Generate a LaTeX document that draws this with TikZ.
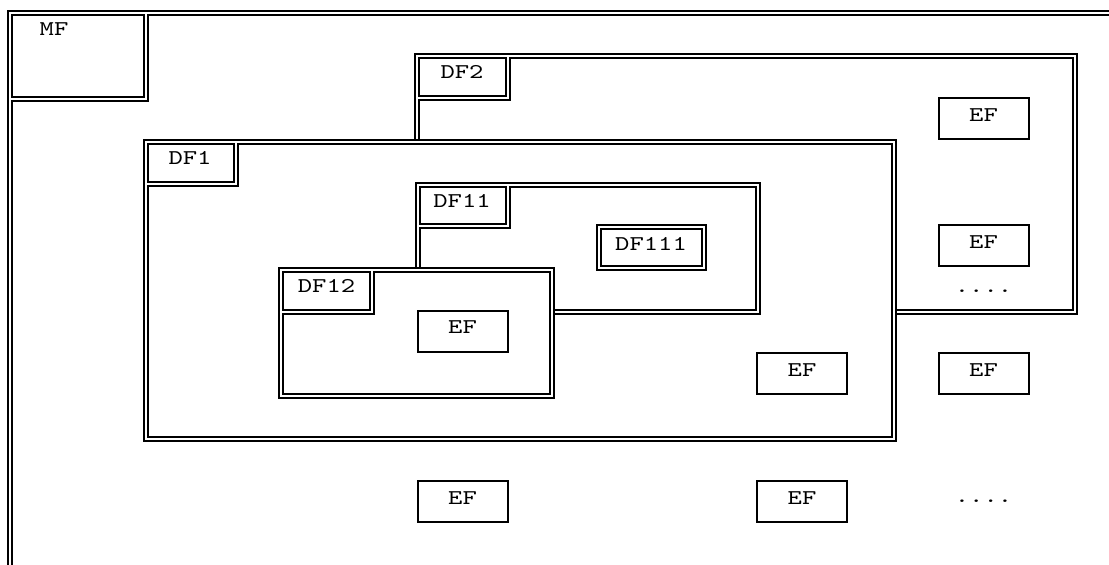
\documentclass[tikz,border=0pt]{standalone}
\usepackage{fontspec}
\setmonofont{lmmono10-regular.otf}[FakeStretch=1.3]
\begin{document}
\begin{tikzpicture}[%
            x=0.5pt, y=-0.5pt,
            myline/.style={line width=1pt},
            myfill/.style={fill=white, line width=1pt},
            mytext/.style={anchor=base, inner sep=0pt, font=\ttfamily\fontsize{10.5}{12}\selectfont},
            mybox/.style={draw, line width=1pt, inner sep=0pt, minimum width=45pt,
                text height=11.65pt, text depth=8.85pt, font=\ttfamily\fontsize{10.5}{12}\selectfont}
    ]
        \useasboundingbox (0,0) rectangle (1109,564);
        \clip (0,0) rectangle (1109,564);

        % MF
        \draw [myline] (7.5,11) rectangle (1120,580);
        \draw [myline] (11.5,15) rectangle (144,97);
        \draw [myline] (11.5,101) -- (148,101) -- (148,15) -- (1116,15)
            -- (1116,576) -- (11.5,576) -- cycle;
        \path (54,35) node [mytext] (mf) {MF};

        % DF2
        \draw [myline] (415,54) rectangle (1077,314);
        \draw [myline] (419,58) rectangle (506,96);
        \draw [myline] (419,100) -- (510,100) -- (510,58) -- (1073,58)
            -- (1073,310) -- (419,310) -- cycle;
        \path (462,78.7) node [mytext] (df2) {DF2};

        % DF1
        \filldraw [myfill] (144,140) rectangle (896,441);
        \draw [myline] (148,144) rectangle (234,182);
        \draw [myline] (148,186) -- (238,186) -- (238,144) -- (892,144)
            -- (892,437) -- (148,437) -- cycle;
        \path (190,164) node [mytext] (df1) {DF1};

        % DF11
        \draw [myline] (416,183) rectangle (760,314);
        \draw [myline] (420,187) rectangle (506,224);
        \draw [myline] (420,228) -- (510,228) -- (510,187) -- (756,187)
            -- (756,310) -- (420,310) -- cycle;
        \path (462,207.7) node [mytext] (df11) {DF11};

        % DF12
        \filldraw [myfill] (279,268) rectangle (554,398);
        \draw [myline] (283,272) rectangle (370,310);
        \draw [myline] (283,314) -- (374,314) -- (374,272) -- (550,272)
            -- (550,394) -- (283,394) -- cycle;
        \path (326.5,292.7) node [mytext] (df12) {DF12};

        % DF111
        \draw [myline] (597,225) rectangle (706,270);
        \draw [myline] (601,229) rectangle (702,266);
        \path (651,250) node [mytext] (df111) {DF111};

        % EF
        \node [mybox] (efa) at (983.5,118.5) {EF};
        \node [mybox] (efb) at (983.5,245.5) {EF};
        \node [mybox] (efc) at (983.5,373.5) {EF};
        \node [mybox] (efd) at (802,373.5) {EF};
        \node [mybox] (efe) at (462.5,331) {EF};
        \node [mybox] (eff) at (462.5,501.5) {EF};
        \node [mybox] (efg) at (802,501.5) {EF};

        \path (983.5,292) node [mytext] (dotsa) {....};
        \path (983.5,502) node [mytext] (dotsb) {....};
    \end{tikzpicture}
\end{document}
